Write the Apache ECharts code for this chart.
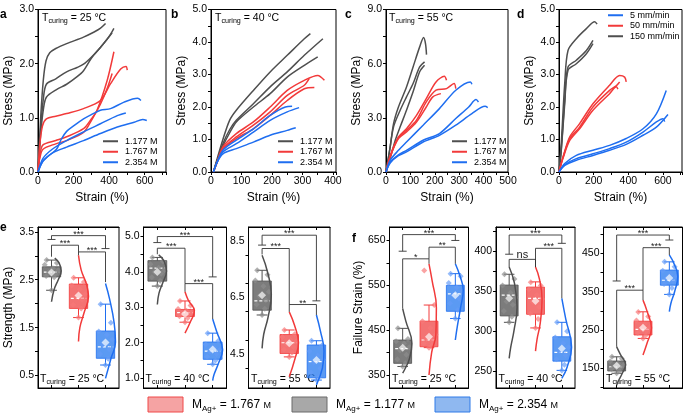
<!DOCTYPE html>
<html><head><meta charset="utf-8">
<script src="https://cdn.jsdelivr.net/npm/echarts@6/dist/echarts.min.js"></script>
<style>html,body{margin:0;padding:0;background:#fff}#c{width:683px;height:413px}</style>
</head><body><div id="c"></div>
<script>
// ---------- DATA: top row stress-strain curves [strain %, stress MPa] ----------
const aGray = [
 [[0,0],[15,1.0],[30,1.7],[45,2.05],[66,2.2],[100,2.28],[161,2.37],[256,2.49],[313,2.58],[350,2.65],[380,2.74]],
 [[0,0],[15,0.8],[30,1.35],[47,1.62],[100,1.72],[161,1.85],[220,1.93],[256,1.99],[300,2.12],[351,2.3],[400,2.5],[427,2.65]],
 [[0,0],[15,0.7],[30,1.15],[47,1.38],[104,1.52],[161,1.62],[220,1.76],[256,1.87],[300,2.1],[351,2.3],[400,2.5],[417,2.57]]
];
const aRed = [
 [[0,0],[10,0.5],[25,0.85],[47,0.98],[100,1.03],[161,1.08],[256,1.17],[351,1.32],[408,1.63],[465,1.9],[495,1.95],[502,1.88]],
 [[0,0],[10,0.3],[28,0.5],[100,0.58],[161,0.65],[256,0.8],[300,0.98],[332,1.14],[389,1.69],[427,2.22]],
 [[0,0],[10,0.25],[28,0.42],[100,0.52],[161,0.58],[256,0.73],[300,0.95],[351,1.25],[390,1.55],[417,1.82]]
];
const aBlue = [
 [[0,0],[28,0.2],[60,0.3],[104,0.42],[130,0.6],[161,0.75],[200,0.85],[256,0.98],[300,1.06],[351,1.14],[408,1.17],[484,1.29],[560,1.36],[579,1.32]],
 [[0,0],[28,0.25],[80,0.42],[161,0.58],[256,0.74],[351,0.89],[446,1.04],[494,1.09]],
 [[0,0],[28,0.2],[80,0.35],[161,0.46],[256,0.58],[351,0.71],[446,0.83],[541,0.92],[589,0.97],[612,0.95]]
];
const bGray = [
 [[8,0],[20,0.4],[39,1.0],[61,1.59],[83,1.9],[139,2.51],[194,3.08],[250,3.59],[306,4.1],[326,4.26]],
 [[8,0],[20,0.35],[39,0.87],[61,1.3],[83,1.59],[139,2.1],[194,2.62],[250,3.08],[306,3.59],[367,4.1]],
 [[8,0],[20,0.35],[39,0.8],[61,1.2],[83,1.54],[139,2.0],[194,2.41],[250,2.92],[306,3.28],[350,3.54]]
];
const bRed = [
 [[8,0],[20,0.3],[39,0.77],[83,1.18],[139,1.54],[194,2.0],[250,2.51],[306,2.82],[350,2.97],[372,2.82]],
 [[8,0],[20,0.3],[39,0.72],[83,1.08],[139,1.44],[194,1.85],[250,2.36],[306,2.67],[322,2.87]],
 [[8,0],[20,0.3],[39,0.7],[83,1.03],[139,1.33],[194,1.74],[250,2.2],[306,2.56],[339,2.6]]
];
const bBlue = [
 [[8,0],[20,0.3],[39,0.67],[83,0.98],[139,1.33],[194,1.74],[244,2.0],[266,2.02]],
 [[8,0],[20,0.3],[39,0.62],[83,0.87],[139,1.23],[194,1.59],[250,1.85],[289,1.98]],
 [[8,0],[20,0.3],[39,0.56],[83,0.72],[139,0.92],[194,1.13],[250,1.28],[278,1.36]]
];
const cGray = [
 [[0,0],[17,1.39],[31,2.68],[51,3.6],[84,4.71],[111,5.82],[138,6.93],[154,7.45],[162,7.1],[166,6.5]],
 [[0,0],[15,1.2],[31,2.5],[58,3.42],[84,4.16],[111,4.9],[138,5.82],[158,6.1]],
 [[0,0],[20,0.9],[38,1.76],[58,2.5],[84,3.42],[111,4.44],[138,5.55],[158,5.91]]
];
const cRed = [
 [[0,0],[17,0.83],[51,1.94],[84,2.4],[125,3.14],[165,4.07],[205,4.99],[239,5.3],[248,5.08]],
 [[0,0],[17,0.9],[51,1.9],[84,2.31],[125,2.87],[165,3.88],[205,4.53],[248,4.62],[279,4.9],[286,4.62]],
 [[0,0],[17,0.85],[51,1.85],[84,2.22],[125,2.77],[165,3.6],[192,4.16],[225,4.34]]
];
const cBlue = [
 [[0,0],[17,0.65],[51,1.2],[84,1.66],[152,2.59],[219,3.51],[286,4.53],[346,4.99],[352,4.86]],
 [[0,0],[17,0.55],[51,0.95],[84,1.2],[152,1.76],[219,2.13],[286,2.96],[339,3.6],[369,4.01],[379,3.88]],
 [[0,0],[17,0.5],[51,0.9],[84,1.11],[152,1.66],[219,2.03],[286,2.59],[352,3.23],[406,3.64],[417,3.57]]
];
const dGray = [
 [[0,0],[13,0.87],[33,2.72],[52,3.74],[100,4.1],[158,4.41],[206,4.62],[220,4.55]],
 [[0,0],[13,0.7],[33,2.2],[52,3.23],[100,3.44],[158,3.74],[196,4.05]],
 [[0,0],[13,0.65],[33,2.1],[52,3.13],[100,3.33],[158,3.64],[196,3.95]]
];
const dRed = [
 [[0,0],[23,0.46],[62,1.08],[119,1.49],[196,2.1],[292,2.67],[350,2.97],[379,2.92],[388,2.77]],
 [[0,0],[23,0.45],[62,1.03],[119,1.38],[196,2.0],[292,2.51],[330,2.65],[350,2.77]],
 [[0,0],[23,0.42],[62,0.97],[119,1.33],[196,1.9],[292,2.41],[331,2.62],[340,2.55]]
];
const dBlue = [
 [[0,0],[33,0.26],[100,0.51],[196,0.67],[292,0.82],[388,1.03],[485,1.33],[562,1.79],[619,2.51]],
 [[0,0],[33,0.22],[100,0.41],[196,0.56],[292,0.72],[388,0.92],[485,1.23],[562,1.54],[600,1.64],[610,1.55]],
 [[0,0],[33,0.2],[100,0.36],[196,0.51],[292,0.67],[388,0.85],[485,1.13],[562,1.38],[629,1.77]]
];
const concNames = ['1.177 M','1.767 M','2.354 M'];
const rateNames = ['150 mm/min','50 mm/min','5 mm/min'];
const topTemps = ['25','40','55'];
// top axes tick labels
const aXLabels=[0,200,400,600], aYLabels=[0,1,2,3];
const bXLabels=[0,100,200,300,400], bYLabels=[0,1,2,3,4,5];
const cXLabels=[0,100,200,300,400,500], cYLabels=[0,3,6,9];
const dXLabels=[0,200,400,600], dYLabels=[0,1,2,3,4,5];

// ---------- DATA: bottom box plots. Groups: 0=1.177 M (gray), 1=1.767 M (red), 2=2.354 M (blue)
// box rows: [lowWhisker, Q1, median, Q3, highWhisker, mean]
const e1Box=[[2.28,2.56,2.66,2.77,2.91,2.65],[1.71,1.90,2.11,2.41,2.54,2.17],[0.72,0.86,1.10,1.43,1.99,1.19]];
const e1Pts=[[2.91,2.85,2.81,2.74,2.7,2.66,2.62,2.58,2.55,2.28],[2.54,2.45,2.38,2.3,2.2,2.15,2.08,1.98,1.9,1.71],[1.99,1.6,1.42,1.35,1.25,1.15,1.05,0.95,0.85,0.72]];
const e1Vio=[[[2.95,0.12],[2.85,0.28],[2.68,0.36],[2.5,0.25],[2.3,0.1],[2.04,0]],[[3.01,0],[2.7,0.1],[2.4,0.3],[2.15,0.37],[1.8,0.2],[1.5,0.05],[1.21,0]],[[2.42,0],[2.1,0.15],[1.6,0.32],[1.2,0.37],[0.85,0.2],[0.44,0]]];
const e1Brk=[[0,2,3.42,3.34,3.15,1,1],[0,1,3.22,2.98,3.08,0,0],[1,2,3.08,3.01,2.45,0,0]];
const e1Sig=['***','***','***'];
const e2Box=[[3.6,3.74,4.11,4.32,4.41,4.0],[2.58,2.74,2.85,2.94,3.18,2.81],[1.39,1.53,1.76,2.02,2.27,1.81]];
const e2Pts=[[4.41,4.3,4.22,4.12,4.05,4.0,3.95,3.85,3.75,3.6],[3.18,3.05,2.95,2.9,2.87,2.83,2.8,2.75,2.7,2.58],[2.27,2.05,1.95,1.87,1.8,1.75,1.68,1.6,1.5,1.39]];
const e2Vio=[[[4.48,0.05],[4.3,0.25],[4.02,0.33],[3.7,0.2],[3.4,0.06],[3.08,0]],[[3.44,0],[3.2,0.12],[2.9,0.34],[2.6,0.2],[2.27,0]],[[2.67,0],[2.3,0.15],[1.8,0.36],[1.4,0.2],[1.1,0.05],[0.93,0]]];
const e2Brk=[[0,2,5.0,4.83,3.86,1,1],[0,1,4.67,4.5,3.67,0,0],[1,2,3.67,3.44,2.67,0,0]];
const e2Sig=['***','***','***'];
const e3Box=[[5.88,6.05,6.38,7.08,7.46,6.58],[4.4,4.52,4.9,5.19,5.35,4.88],[3.58,3.66,4.23,4.82,4.97,4.29]];
const e3Pts=[[7.46,7.3,7.1,6.9,6.7,6.55,6.4,6.25,6.1,5.88],[5.35,5.2,5.1,5.0,4.95,4.85,4.75,4.65,4.55,4.4],[4.97,4.8,4.6,4.45,4.3,4.2,4.0,3.85,3.7,3.58]];
const e3Vio=[[[7.99,0],[7.4,0.2],[6.6,0.34],[5.8,0.22],[5.2,0.06],[4.7,0]],[[5.99,0],[5.5,0.2],[4.9,0.34],[4.3,0.2],[3.7,0]],[[5.88,0],[5.3,0.15],[4.6,0.28],[4.0,0.22],[3.41,0]]];
const e3Brk=[[0,2,8.7,8.35,6.38,1,1],[0,1,8.23,8.02,6.25,0,0],[1,2,6.25,5.99,5.88,0,0]];
const e3Sig=['***','***','**'];
const f1Box=[[369,376,409,428,454,411],[411,413,428,470,506,435],[476,492,531,550,576,528]];
const f1Pts=[[454,430,425,420,412,405,395,385,376,369],[583,506,470,455,440,430,425,420,415,411],[576,570,555,545,535,528,520,510,495,476]];
const f1Vio=[[[498,0],[470,0.12],[420,0.35],[385,0.25],[365,0.1],[354,0]],[[598,0],[560,0.12],[500,0.28],[440,0.26],[400,0.1],[350,0]],[[598,0],[570,0.18],[540,0.3],[500,0.2],[460,0.08],[428,0]]];
const f1Brk=[[0,2,663,626,650,1,1],[0,1,609,498,598,0,0],[1,2,635,609,598,0,0]];
const f1Sig=['***','*','**'];
const f2Box=[[311,319,345,357.5,371,341],[304,321,341,355,361.5,337.5],[251,262.5,273.4,293,311,278.4]];
const f2Pts=[[371,365,357,348,342,337,333,325,318,311],[361,357,352,345,340,336,330,322,315,304],[311,300,292,285,280,275,270,265,258,251]];
const f2Vio=[[[380,0],[360,0.2],[330,0.3],[300,0.18],[280,0.06],[266,0]],[[380,0],[365,0.15],[340,0.25],[310,0.18],[290,0.06],[275,0]],[[341,0],[315,0.15],[280,0.37],[255,0.2],[241,0]]];
const f2Brk=[[0,2,420,396,409.6,1,1],[0,1,389.6,380,380,0,0],[1,2,403.4,380,341,0,0]];
const f2Sig=['***','ns','***'];
const f3Box=[[137,143,154,169,180,156.7],[228,237,251.7,273,297.6,256],[343,367,380,406.5,428,386]];
const f3Pts=[[180,175,168,162,158,155,152,148,143,137],[297,285,275,265,258,253,248,242,236,228],[428,415,405,395,390,385,378,370,360,343]];
const f3Vio=[[[206,0],[185,0.15],[160,0.34],[135,0.2],[115,0.05],[106,0]],[[328,0],[300,0.15],[255,0.32],[215,0.15],[185,0]],[[446,0],[420,0.2],[390,0.32],[350,0.2],[320,0.06],[298,0]]];
const f3Brk=[[0,2,498,378,485,1,1],[0,1,354,206,328,0,0],[1,2,465,354,446,0,0]];
const f3Sig=['***','***','***'];
// bottom axes tick labels
const e1YLabels=[0.5,1.5,2.5,3.5], e2YLabels=[1,2,3,4,5], e3YLabels=[4.5,6.5,8.5];
const f1YLabels=[350,450,550,650], f2YLabels=[250,300,350,400], f3YLabels=[150,250,350,450];
const bottomTemps=['25','40','55','25','40','55'];
const legendConc=['1.767','1.177','2.354'];

// ---------- STYLE ----------
const FONT='"Liberation Sans", Arial, sans-serif';
const LINE=['#4f4f4f','#f23a3a','#1f6ef0'];
const BOXFILL=['rgba(95,95,95,0.82)','rgba(240,75,75,0.78)','rgba(45,125,240,0.78)'];
const PTCOL=['rgba(140,140,140,0.85)','rgba(248,120,120,0.85)','rgba(100,155,248,0.85)'];
const jitter=[-0.18,0.2,-0.25,0.05,0.25,-0.1,0.14,-0.2,0.1,0.0];

const grid=[],xAxis=[],yAxis=[],series=[],legend=[],graphic=[];
function axText(){return {fontSize:10.5,color:'#000',fontFamily:FONT};}

// ---------- TOP PANELS ----------
const topSets=[[aGray,aRed,aBlue],[bGray,bRed,bBlue],[cGray,cRed,cBlue],[dGray,dRed,dBlue]];
const topPos=[{l:38,w:128},{l:211,w:125},{l:386,w:122},{l:559,w:123}];
const topX=[{max:720,step:100,lab:aXLabels},{max:410,step:50,lab:bXLabels},{max:500,step:50,lab:cXLabels},{max:710,step:100,lab:dXLabels}];
const topY=[{max:3,step:0.5,lab:aYLabels},{max:5,step:0.5,lab:bYLabels},{max:9,step:1.5,lab:cYLabels},{max:5,step:0.5,lab:dYLabels}];
topSets.forEach((set,k)=>{
  grid.push({left:topPos[k].l,top:9.5,width:topPos[k].w,height:162.5,show:true,borderColor:'#000',borderWidth:1,backgroundColor:'transparent',outerBoundsMode:'none'});
  xAxis.push({gridIndex:k,type:'value',min:0,max:topX[k].max,interval:topX[k].step,
    axisLine:{show:true,onZero:false,lineStyle:{color:'#000',width:1}},
    axisTick:{show:true,length:3,lineStyle:{color:'#000',width:1}},
    axisLabel:Object.assign({customValues:topX[k].lab,margin:4},axText()),
    splitLine:{show:false},name:'Strain (%)',nameLocation:'middle',nameGap:20,nameMoveOverlap:false,
    nameTextStyle:{fontSize:12,color:'#000',fontFamily:FONT}});
  yAxis.push({gridIndex:k,type:'value',min:0,max:topY[k].max,interval:topY[k].step,
    axisLine:{show:true,onZero:false,lineStyle:{color:'#000',width:1}},
    axisTick:{show:true,length:3,lineStyle:{color:'#000',width:1}},
    axisLabel:Object.assign({customValues:topY[k].lab,margin:4,formatter:v=>Number(v).toFixed(1)},axText()),
    splitLine:{show:false},name:'Stress (MPa)',nameLocation:'middle',nameGap:23,nameMoveOverlap:false,
    nameTextStyle:{fontSize:12,color:'#000',fontFamily:FONT}});
  const names = k===3?rateNames:concNames;
  set.forEach((grp,g)=>{
    grp.forEach(curve=>{
      series.push({type:'line',name:names[g],xAxisIndex:k,yAxisIndex:k,data:curve,smooth:0.3,
        showSymbol:false,symbol:'none',lineStyle:{color:LINE[g],width:1.5},itemStyle:{color:LINE[g]},z:3,silent:true});
    });
  });
});
// in-panel legends
const legPos=[{l:103,t:136},{l:278,t:136},{l:452,t:136},{l:608,t:10}];
legPos.forEach((p,k)=>{
  legend.push({left:p.l,top:p.t,orient:'vertical',itemGap:0,itemWidth:15,itemHeight:2,icon:'rect',padding:0,
    data: k===3? ['5 mm/min','50 mm/min','150 mm/min'] : concNames,
    textStyle:{fontSize:9,color:'#000',fontFamily:FONT,lineHeight:10.5,padding:[0,0,0,2]},selectedMode:false});
});

// ---------- BOTTOM PANELS ----------
const boxSets=[e1Box,e2Box,e3Box,f1Box,f2Box,f3Box];
const ptSets=[e1Pts,e2Pts,e3Pts,f1Pts,f2Pts,f3Pts];
const vioSets=[e1Vio,e2Vio,e3Vio,f1Vio,f2Vio,f3Vio];
const brkSets=[e1Brk,e2Brk,e3Brk,f1Brk,f2Brk,f3Brk];
const sigSets=[e1Sig,e2Sig,e3Sig,f1Sig,f2Sig,f3Sig];
const yLabSets=[e1YLabels,e2YLabels,e3YLabels,f1YLabels,f2YLabels,f3YLabels];
const botPos=[{l:38,w:81},{l:143.5,w:83},{l:248.5,w:81.5},{l:389.5,w:79},{l:496,w:79},{l:603.5,w:79}];
const botY=[{min:0.24,max:3.6,step:0.5,dec:1},{min:0.72,max:5.27,step:0.5,dec:1},{min:3.3,max:8.99,step:1,dec:1},
            {min:321,max:680,step:50,dec:0},{min:229,max:430,step:25,dec:0},{min:98.6,max:519,step:50,dec:0}];

function boxRender(params,api){
  const g=api.value(0);
  const lo=api.coord([g,api.value(1)]),q1=api.coord([g,api.value(2)]),md=api.coord([g,api.value(3)]),
        q3=api.coord([g,api.value(4)]),hi=api.coord([g,api.value(5)]);
  const hw=api.size([0.34,0])[0], cw=api.size([0.2,0])[0];
  const st={stroke:LINE[g],lineWidth:1};
  return {type:'group',children:[
    {type:'line',shape:{x1:hi[0],y1:hi[1],x2:q3[0],y2:q3[1]},style:st},
    {type:'line',shape:{x1:lo[0],y1:lo[1],x2:q1[0],y2:q1[1]},style:st},
    {type:'line',shape:{x1:hi[0]-cw,y1:hi[1],x2:hi[0]+cw,y2:hi[1]},style:st},
    {type:'line',shape:{x1:lo[0]-cw,y1:lo[1],x2:lo[0]+cw,y2:lo[1]},style:st},
    {type:'rect',shape:{x:q3[0]-hw,y:q3[1],width:2*hw,height:q1[1]-q3[1]},style:{fill:BOXFILL[g],stroke:LINE[g],lineWidth:0.8}},
    {type:'line',z2:10,shape:{x1:md[0]-hw+1.5,y1:md[1],x2:md[0]+hw-1.5,y2:md[1]},style:{stroke:'#fff',lineWidth:1.2,lineDash:[3,2]}}
  ]};
}
function brkRender(labels){
  return function(params,api){
    const i=api.value(0),j=api.value(1),h=api.value(2),yl=api.value(3),yr=api.value(4);
    const pL=api.coord([i,yl]),p1=api.coord([i,h]),p2=api.coord([j,h]),pR=api.coord([j,yr]);
    const st={stroke:'#333',lineWidth:0.9,fill:null};
    const ch=[{type:'polyline',shape:{points:[pL,p1,p2,pR]},style:st}];
    if(api.value(5)) ch.push({type:'line',shape:{x1:pL[0]-4,y1:pL[1],x2:pL[0]+4,y2:pL[1]},style:st});
    if(api.value(6)) ch.push({type:'line',shape:{x1:pR[0]-4,y1:pR[1],x2:pR[0]+4,y2:pR[1]},style:st});
    const lab=labels[params.dataIndex];
    const ns = lab==='ns';
    ch.push({type:'text',style:{x:(p1[0]+p2[0])/2,y:p1[1]+(ns?1:3),text:lab,align:'center',verticalAlign:'bottom',
      fontSize:ns?11:9,fill:'#222',fontFamily:FONT}});
    return {type:'group',children:ch};
  };
}

boxSets.forEach((boxes,k)=>{
  const gi=4+k;
  grid.push({left:botPos[k].l,top:227,width:botPos[k].w,height:161,show:true,borderColor:'#000',borderWidth:1,backgroundColor:'transparent',outerBoundsMode:'none'});
  const xb=xAxis.length;
  xAxis.push({gridIndex:gi,type:'value',min:-0.5,max:2.5,position:'bottom',
    axisLine:{show:true,onZero:false,lineStyle:{color:'#000',width:1}},
    axisTick:{show:true,inside:true,length:3,customValues:[0,1,2],lineStyle:{color:'#000'}},
    axisLabel:{show:false},splitLine:{show:false}});
  xAxis.push({gridIndex:gi,type:'value',min:-0.5,max:2.5,position:'top',
    axisLine:{show:true,onZero:false,lineStyle:{color:'#000',width:1}},
    axisTick:{show:true,inside:true,length:3,customValues:[0,1,2],lineStyle:{color:'#000'}},
    axisLabel:{show:false},splitLine:{show:false}});
  const yb=yAxis.length;
  const yc=botY[k];
  const ticks=[]; for(let v=Math.ceil(yc.min/yc.step)*yc.step; v<=yc.max+1e-9; v+=yc.step) ticks.push(+v.toFixed(3));
  yAxis.push({gridIndex:gi,type:'value',min:yc.min,max:yc.max,
    axisLine:{show:true,onZero:false,lineStyle:{color:'#000',width:1}},
    axisTick:{show:true,length:3,customValues:ticks,lineStyle:{color:'#000'}},
    axisLabel:Object.assign({customValues:yLabSets[k],margin:4,formatter:v=>Number(v).toFixed(yc.dec)},axText()),
    splitLine:{show:false},
    name: k===0?'Strength (MPa)':(k===3?'Failure Strain (%)':''),nameLocation:'middle',
    nameGap: k===0?23:25,nameMoveOverlap:false,nameTextStyle:{fontSize:12,color:'#000',fontFamily:FONT}});
  // boxes
  series.push({type:'custom',xAxisIndex:xb,yAxisIndex:yb,renderItem:boxRender,silent:true,z:2,
    encode:{x:0,y:[1,2,3,4,5]},data:boxes.map((b,g)=>[g,b[0],b[1],b[2],b[3],b[4]])});
  // data points
  const pts=[];
  ptSets[k].forEach((arr,g)=>arr.forEach((v,n)=>pts.push({value:[g+jitter[n],v],itemStyle:{color:PTCOL[g]}})));
  series.push({type:'scatter',xAxisIndex:xb,yAxisIndex:yb,symbol:'diamond',symbolSize:6,data:pts,z:3,silent:true});
  // half violins
  vioSets[k].forEach((prof,g)=>{
    series.push({type:'line',xAxisIndex:xb,yAxisIndex:yb,data:prof.map(p=>[g+p[1],p[0]]),smooth:0.45,
      showSymbol:false,symbol:'none',lineStyle:{color:LINE[g],width:1.5},z:4,silent:true,clip:false});
  });
  // means
  series.push({type:'scatter',xAxisIndex:xb,yAxisIndex:yb,symbol:'diamond',symbolSize:8,z:5,silent:true,
    itemStyle:{color:'rgba(255,255,255,0.85)'},data:boxes.map((b,g)=>[g,b[5]])});
  // significance brackets
  series.push({type:'custom',xAxisIndex:xb,yAxisIndex:yb,renderItem:brkRender(sigSets[k]),silent:true,z:6,
    encode:{x:[0,1],y:[2,3,4]},data:brkSets[k]});
});

// ---------- TEXT ----------
function tcur(x,y,temp,fs){
  return {type:'text',x:x,y:y,style:{text:'{t|T}{s|curing}{t| = '+temp+' °C}',verticalAlign:'top',
    rich:{t:{fontSize:fs,fontFamily:FONT,fill:'#000'},s:{fontSize:fs*0.68,fontFamily:FONT,fill:'#000',padding:[7,0,0,0]}}}};
}
[[42,11],[215,11],[389,11]].forEach((p,k)=>graphic.push(tcur(p[0],p[1],topTemps[k],10.5)));
[[40,372],[145.5,372],[251,372],[392,372],[498.5,372],[606,372]].forEach((p,k)=>graphic.push(tcur(p[0],p[1],bottomTemps[k],10.5)));
[['a',0,8.5],['b',171,8.5],['c',345,8.5],['d',517,8.5],['e',0,222],['f',352,233]].forEach(t=>{
  graphic.push({type:'text',x:t[1],y:t[2],style:{text:t[0],fontSize:12,fontWeight:'bold',fontFamily:FONT,fill:'#000',verticalAlign:'alphabetic'}});
});
const legStyle=[{fill:'#f5a3a3',stroke:'#f04848',x:148},{fill:'#a8a8a8',stroke:'#6a6a6a',x:292},{fill:'#8fb8f0',stroke:'#2f7ae8',x:435}];
legendConc.forEach((c,k)=>{
  const s=legStyle[k];
  graphic.push({type:'rect',x:s.x,y:397,shape:{width:35,height:15},style:{fill:s.fill,stroke:s.stroke,lineWidth:1}});
  graphic.push({type:'text',x:s.x+44,y:397,style:{text:'{m|M}{s|Ag+}{m| = '+c+' }{u|M}',verticalAlign:'top',
    rich:{m:{fontSize:12,fontFamily:FONT,fill:'#000'},s:{fontSize:8,fontFamily:FONT,fill:'#000',padding:[8,0,0,0]},u:{fontSize:9,fontFamily:FONT,fill:'#000',padding:[2,0,0,0]}}}});
});

const chart=echarts.init(document.getElementById('c'),null,{renderer:'canvas'});
chart.setOption({animation:false,backgroundColor:'#fff',textStyle:{fontFamily:FONT},
  grid,xAxis,yAxis,series,legend,graphic});
</script></body></html>
